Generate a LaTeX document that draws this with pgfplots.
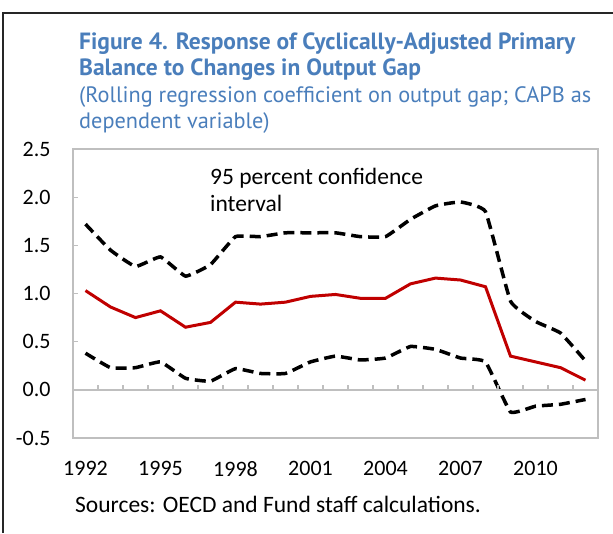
\documentclass[border=0pt]{standalone}
\usepackage{fontspec}
\setmainfont{Carlito}
\newfontfamily\titlefont{PT Sans}
\usepackage{pgfplots}
\pgfplotsset{compat=1.18}
\definecolor{titleblue}{HTML}{4A7EBB}
\definecolor{boxgray}{HTML}{BFBFBF}
\definecolor{capbred}{HTML}{C00000}

\pgfplotstableread{
year upper coef lower
1992 1.72 1.03 0.38
1993 1.45 0.86 0.23
1994 1.28 0.75 0.23
1995 1.38 0.82 0.29
1996 1.18 0.65 0.12
1997 1.30 0.70 0.09
1998 1.59 0.91 0.22
1999 1.59 0.89 0.17
2000 1.63 0.91 0.17
2001 1.63 0.97 0.29
2002 1.63 0.99 0.35
2003 1.59 0.95 0.31
2004 1.59 0.95 0.33
2005 1.77 1.10 0.45
2006 1.91 1.16 0.42
2007 1.95 1.14 0.33
2008 1.85 1.07 0.29
2009 0.92 0.35 -0.23
2010 0.71 0.29 -0.17
2011 0.59 0.23 -0.15
2012 0.30 0.10 -0.10
}\capb

\begin{document}
\begin{tikzpicture}[x=1pt,y=1pt]
\path[use as bounding box] (0,0) rectangle (613,533);
\draw[line width=2pt, black!85] (3,0) -- (3,520) -- (613,520);

% titles
\node[anchor=base west, inner sep=0, text=titleblue, font=\titlefont\bfseries\fontsize{23.5}{26}\selectfont] at (79,483) {Figure 4. Response of Cyclically-Adjusted Primary};
\node[anchor=base west, inner sep=0, text=titleblue, font=\titlefont\bfseries\fontsize{23.5}{26}\selectfont] at (79,457) {Balance to Changes in Output Gap};
\node[anchor=base west, inner sep=0, text=titleblue, font=\titlefont\fontsize{22.3}{26}\selectfont] at (79,430) {(Rolling regression coefficient on output gap; CAPB as};
\node[anchor=base west, inner sep=0, text=titleblue, font=\titlefont\fontsize{22.3}{26}\selectfont] at (79,404) {dependent variable)};

\begin{axis}[
    at={(73pt,95pt)}, anchor=south west,
    scale only axis, width=525pt, height=289pt,
    xmin=1991.5, xmax=2012.5,
    ymin=-0.5, ymax=2.5,
    ytick={-0.5,0,0.5,1,1.5,2,2.5},
    xtick={1992,1995,1998,2001,2004,2007,2010},
    xticklabels={1992,1995,1998,2001,2004,2007,2010},
    axis line style={boxgray, line width=1.5pt},
    xtick style={draw=none},
    ytick style={boxgray, line width=1.2pt},
    ytick pos=left, tick align=inside, major tick length=5pt,
    ticklabel style={font=\fontsize{22}{24}\selectfont},
    /pgf/number format/assume math mode=true,
    yticklabel style={/pgf/number format/fixed, /pgf/number format/fixed zerofill, /pgf/number format/precision=1, xshift=-19pt},
    xticklabel style={yshift=-20pt},
]
\addplot[capbred, line width=3pt] table[x=year, y=coef] {\capb};
\addplot[black, line width=3.5pt, dash pattern=on 11pt off 6pt, smooth, tension=0.2] table[x=year, y=upper] {\capb};
\addplot[black, line width=3.5pt, dash pattern=on 11pt off 6pt, smooth, tension=0.2] table[x=year, y=lower] {\capb};
\end{axis}

\begin{axis}[
    at={(73pt,95pt)}, anchor=south west,
    scale only axis, width=525pt, height=289pt,
    xmin=1991.5, xmax=2012.5,
    ymin=-0.5, ymax=2.5,
    axis x line=middle, axis y line=none,
    axis line style={boxgray, line width=1.5pt, -},
    xtick={1992.5,1993.5,...,2011.5},
    xticklabels={},
    xtick style={boxgray, line width=1.2pt},
    tick align=inside, major tick length=5pt,
]
\end{axis}

\node[anchor=base west, inner sep=0, font=\fontsize{23.5}{26}\selectfont] at (210,348) {95 percent confidence};
\node[anchor=base west, inner sep=0, font=\fontsize{23.5}{26}\selectfont] at (210,321) {interval};
\node[anchor=base west, inner sep=0, font=\fontsize{23.5}{26}\selectfont] at (75,21) {Sources: OECD and Fund staff calculations.};
\end{tikzpicture}
\end{document}
